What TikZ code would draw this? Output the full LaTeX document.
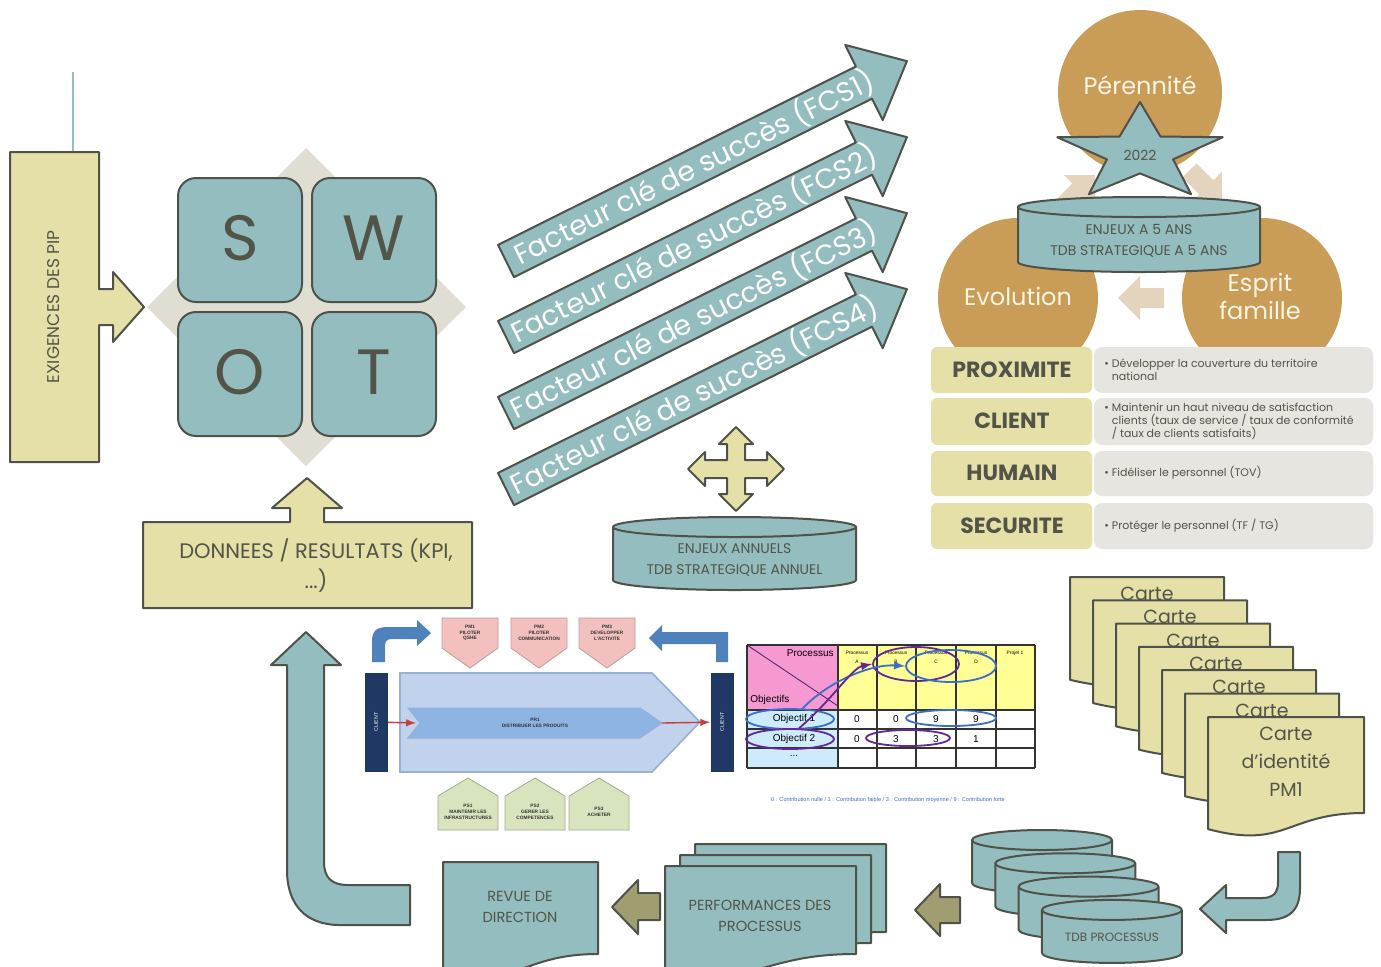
\documentclass[tikz,border=0pt]{standalone}
\usepackage{fontspec}
\setmainfont{Poppins}
\newfontfamily\arialfont{Liberation Sans}
\usetikzlibrary{calc,shapes,arrows}

\definecolor{sarcelle}{RGB}{148,189,191}
\definecolor{paille}{RGB}{228,224,168}
\definecolor{ocre}{RGB}{201,156,88}
\definecolor{trait}{RGB}{78,82,72}
\definecolor{encre}{RGB}{82,84,72}
\definecolor{grisclair}{RGB}{224,221,210}
\definecolor{grisligne}{RGB}{231,229,223}
\definecolor{olive}{RGB}{160,158,112}
\definecolor{beige}{RGB}{228,212,190}
\definecolor{creme}{RGB}{252,245,226}
\definecolor{marine}{RGB}{31,56,100}
\definecolor{bleuclair}{RGB}{192,210,236}
\definecolor{bleubord}{RGB}{150,176,214}
\definecolor{bleumoyen}{RGB}{141,180,226}
\definecolor{bleufleche}{RGB}{79,129,189}
\definecolor{rouge}{RGB}{200,60,60}
\definecolor{rosepm}{RGB}{242,192,190}
\definecolor{vertps}{RGB}{216,228,190}
\definecolor{rosetab}{RGB}{246,152,210}
\definecolor{jaunetab}{RGB}{255,255,150}
\definecolor{cieltab}{RGB}{205,235,252}
\definecolor{violet}{RGB}{100,40,150}
\definecolor{bleuell}{RGB}{60,110,200}

% cylindre : nom, x, y, largeur, hauteur, taille, texte
\newcommand{\tambour}[7]{%
  \filldraw[sarcbox] (#2,#3+10) -- (#2,#3+#5-10) arc[start angle=180, end angle=0, x radius=#4/2, y radius=10] -- (#2+#4,#3+10);
  \filldraw[sarcbox] (#2+#4/2,#3+10) ellipse[x radius=#4/2, y radius=10];
  \node[txt, font=\fontsize{#6}{10.5}\selectfont] (#1) at (#2+#4/2,#3+#5/2+6) {#7};
}
% document a bord ondule : x, y, largeur, hauteur, style
\newcommand{\feuille}[5]{%
  \draw[#5] (#1,#2) -- (#1+#3,#2) -- (#1+#3,#2+0.8*#4) .. controls (#1+0.5*#3,#2+0.8*#4) and (#1+0.5*#3,#2+1.107*#4) .. (#1,#2+0.934*#4) -- cycle;
}

\begin{document}
\begin{tikzpicture}[x=0.5pt,y=-0.5pt,
    contour/.style={draw=trait, line width=1pt, line join=round},
    paillebox/.style={contour, fill=paille},
    sarcbox/.style={contour, fill=sarcelle},
    txt/.style={text=encre, align=center, inner sep=0pt},
    clientbar/.style={fill=marine, text=white, rotate=90, minimum width=49.5pt, minimum height=11.5pt, inner sep=0pt, font=\arialfont\fontsize{2.6}{3}\selectfont},
    petit/.style={align=center, inner sep=0pt, text=black!80, font=\arialfont\bfseries\fontsize{2.4}{2.9}\selectfont},
    cellule/.style={inner sep=0pt, font=\arialfont\fontsize{5}{5}\selectfont},
    entete/.style={inner sep=0pt, align=center, font=\arialfont\fontsize{2.4}{4.4}\selectfont},
    rond/.style={ellipse, draw=#1, line width=0.9pt, inner sep=0pt},
    label/.style={text=encre, inner sep=0pt, font=\bfseries\fontsize{11}{11}\selectfont},
    detail/.style={anchor=west, align=left, text=encre, inner sep=0pt, font=\fontsize{5.5}{6.5}\selectfont}]
\useasboundingbox (0,0) rectangle (1381,966);
\fill[white] (0,0) rectangle (1381,966);

\draw[sarcelle, line width=1pt] (73,72) -- (73,152);
\draw[paillebox] (10,152) -- (99,152) -- (99,289) -- (113,289) -- (113,272) -- (144,307) -- (113,342) -- (113,325) -- (99,325) -- (99,462) -- (10,462) -- cycle;
\node[txt, rotate=90, font=\fontsize{8.5}{9}\selectfont] (exig) at (54,307) {EXIGENCES DES PIP};

\fill[grisclair] (306,148) -- (466,307) -- (306,466) -- (147,307) -- cycle;
\foreach \nom/\cx/\cy in {S/240/240, W/374/240, O/240/374, T/374/374}{
  \draw[sarcbox, rounded corners=9pt] (\cx-62,\cy-62) rectangle (\cx+62,\cy+62);
  \node[txt, font=\fontsize{32}{32}\selectfont] (swot\nom) at (\cx,\cy-2) {\nom};
}

\draw[paillebox] (143,608) -- (143,522) -- (290,522) -- (290,508) -- (272,508) -- (307,478) -- (342,508) -- (324,508) -- (324,522) -- (472,522) -- (472,608) -- cycle;
\node[txt, font=\fontsize{10.5}{15}\selectfont] (donnees) at (316,566) {DONNEES / RESULTATS (KPI,\\...)};

\foreach \k in {1,...,4}{
  \begin{scope}[shift={(506,{261+76*(\k-1)})}, rotate=26.5]
    \draw[sarcbox] (0,-18) -- (400,-18) -- (400,-42) -- (448,0) -- (400,42) -- (400,18) -- (0,18) -- cycle;
    \node[rotate=26.5, text=white, inner sep=0pt, font=\fontsize{14}{14}\selectfont] (fcs\k) at (210,0) {Facteur clé de succès (FCS\k)};
  \end{scope}
}

\begin{scope}[shift={(736,469)}]
  \draw[paillebox] (0,-42) -- (17,-25) -- (9,-25) -- (9,-9) -- (31,-9) -- (31,-17) -- (48,0) -- (31,17) -- (31,9) -- (9,9) -- (9,25) -- (17,25) -- (0,42) -- (-17,25) -- (-9,25) -- (-9,9) -- (-31,9) -- (-31,17) -- (-48,0) -- (-31,-17) -- (-31,-9) -- (-9,-9) -- (-9,-25) -- (-17,-25) -- cycle;
\end{scope}
\tambour{enjeuxan}{613}{517}{243}{73}{7}{ENJEUX ANNUELS\\TDB STRATEGIQUE ANNUEL}

\fill[ocre] (1140,92) circle[radius=82];
\fill[ocre] (1018,298) circle[radius=80];
\fill[ocre] (1262,298) circle[radius=80];
\node[text=creme, inner sep=0pt, font=\fontsize{12}{12}\selectfont] (perennite) at (1140,85) {Pérennité};
\node[text=creme, inner sep=0pt, font=\fontsize{12}{12}\selectfont] (evolution) at (1018,296) {Evolution};
\node[text=creme, inner sep=0pt, align=center, font=\fontsize{12}{14}\selectfont] (esprit) at (1260,296) {Esprit\\famille};
\foreach \px/\py/\rot in {1078/192/45, 1205/186/-45, 1142/298/180}{
  \begin{scope}[shift={(\px,\py)}, rotate=\rot]
    \fill[beige] (-22,-10) -- (2,-10) -- (2,-22) -- (24,0) -- (2,22) -- (2,10) -- (-22,10) -- cycle;
  \end{scope}
}
\begin{scope}[shift={(1140,153)}, x=43.5pt, y=25.5pt]
  \draw[sarcbox] (90:1) -- (126:.4) -- (162:1) -- (198:.4) -- (234:1) -- (270:.4) -- (306:1) -- (342:.4) -- (18:1) -- (54:.4) -- cycle;
\end{scope}
\node[txt, font=\fontsize{7}{7}\selectfont] (annee) at (1140,155) {2022};
\tambour{enjeuxcinq}{1018}{197}{242}{75}{7}{ENJEUX A 5 ANS\\TDB STRATEGIQUE A 5 ANS}

\foreach \y/\h in {347/46, 398/47, 451/45, 503/46}{
  \fill[paille, rounded corners=3pt] (931,\y) rectangle (1092,\y+\h);
  \fill[grisligne, rounded corners=4pt] (1094,\y) rectangle (1373,\y+\h);
}
\node[label] (prox) at (1012,370) {PROXIMITE};
\node[label] (client) at (1012,421) {CLIENT};
\node[label] (humain) at (1012,473) {HUMAIN};
\node[label] (secu) at (1012,526) {SECURITE};
\node[detail] (dprox) at (1104,370) {\textbullet\ Développer la couverture du territoire\\\phantom{\textbullet\ }national};
\node[detail] (dclient) at (1104,421) {\textbullet\ Maintenir un haut niveau de satisfaction\\\phantom{\textbullet\ }clients (taux de service / taux de conformité\\\phantom{\textbullet\ }/ taux de clients satisfaits)};
\node[detail] (dhumain) at (1104,473) {\textbullet\ Fidéliser le personnel (TOV)};
\node[detail] (dsecu) at (1104,526) {\textbullet\ Protéger le personnel (TF / TG)};

\draw[fill=bleuclair, draw=bleubord, line width=0.8pt] (400,673) -- (652,673) -- (700,722) -- (652,772) -- (400,772) -- cycle;
\draw[fill=bleumoyen, draw=bleubord, line width=0.5pt] (408,708) -- (640,708) -- (662,723) -- (640,738) -- (408,738) -- (420,723) -- cycle;
\node[petit] (pr1) at (535,723) {PR1\\DISTRIBUER LES PRODUITS};
\coordinate (pr1g) at (416,723);
\coordinate (pr1d) at (662,723);
\node[clientbar] (clientG) at (376,722) {CLIENT};
\node[clientbar] (clientD) at (722,722) {CLIENT};
\draw[rouge, line width=0.7pt, -latex] (clientG) -- (pr1g);
\draw[rouge, line width=0.7pt, -latex] (pr1d) -- (clientD);
\fill[bleufleche] (372,662) -- (372,642) .. controls (372,631) and (376,627) .. (388,627) -- (417,627) -- (417,620) -- (431,633) -- (417,646) -- (417,639) -- (392,639) .. controls (387,639) and (385,641) .. (385,646) -- (385,662) -- cycle;
\fill[bleufleche] (728,662) -- (728,632) -- (662,632) -- (662,625) -- (649,638) -- (662,651) -- (662,644) -- (716,644) -- (716,662) -- cycle;
\foreach \i/\x/\t in {1/470/{PM1\\PILOTER\\QSHE}, 2/539/{PM2\\PILOTER\\COMMUNICATION}, 3/607/{PM3\\DEVELOPPER\\L'ACTIVITE}}{
  \draw[fill=rosepm, draw=rosepm!80!black, line width=0.4pt] (\x-28,618) -- (\x+28,618) -- (\x+28,648) -- (\x,668) -- (\x-28,648) -- cycle;
  \node[petit] (pm\i) at (\x,633) {\t};
}
\foreach \i/\x/\t in {1/468/{PS1\\MAINTENIR LES\\INFRASTRUCTURES}, 2/535/{PS2\\GERER LES\\COMPETENCES}, 3/599/{PS3\\ACHETER}}{
  \draw[fill=vertps, draw=vertps!75!black, line width=0.4pt] (\x-30,830) -- (\x-30,796) -- (\x,778) -- (\x+30,796) -- (\x+30,830) -- cycle;
  \node[petit] (ps\i) at (\x,812) {\t};
}

\fill[rosetab] (747,645) rectangle (838,710);
\fill[jaunetab] (838,645) rectangle (1035,710);
\fill[cieltab] (747,710) rectangle (838,768);
\draw[violet!70!black, line width=0.4pt] (747,645) -- (838,706);
\foreach \x in {747,838,877,916,956,996,1035}
  \draw[black!80, line width=0.6pt] (\x,645) -- (\x,768);
\foreach \y in {645,710,729,748,768}
  \draw[black!80, line width=0.6pt] (747,\y) -- (1035,\y);
\node[cellule, anchor=east] (tProc) at (834,653) {Processus};
\node[cellule, anchor=west] (tObj) at (750,700) {Objectifs};
\foreach \n/\x/\t in {A/857/{Processus\\A}, B/896/{Processus\\B}, C/936/{Processus\\C}, D/976/{Processus\\D}, P/1015/{Projet 1}}
  \node[entete, anchor=north] (col\n) at (\x,651) {\t};
\node[cellule] (obj1) at (794,719) {Objectif 1};
\node[cellule] (obj2) at (794,739) {Objectif 2};
\node[cellule] (objn) at (794,756) {...};
\foreach \v/\x/\y in {0/857/719, 0/896/719, 9/936/719, 9/976/719, 0/857/739, 3/896/739, 3/936/739, 1/976/739}
  \node[cellule] at (\x,\y) {\v};
\node[rond=bleuell, minimum width=44pt, minimum height=10pt] (ellObj1) at (790,719) {};
\node[rond=violet, minimum width=44pt, minimum height=10pt] (ellObj2) at (790,739) {};
\node[rond=violet, minimum width=43pt, minimum height=17pt] (ellB) at (916,664) {};
\node[rond=bleuell, minimum width=45pt, minimum height=16pt] (ellCD) at (951,666) {};
\node[rond=bleuell, minimum width=45pt, minimum height=8pt] (ell99) at (951,718) {};
\node[rond=violet, minimum width=42pt, minimum height=8pt] (ell33) at (908,738) {};
\draw[bleuell, line width=0.9pt, -latex] (ellObj1.40) .. controls (830,680) and (872,664) .. (ellCD.west);
\draw[violet, line width=0.9pt, -latex] (ellObj2.50) .. controls (832,700) and (852,668) .. (ellB.west);
\node[inner sep=0pt, text=bleuell, font=\arialfont\fontsize{2.8}{3}\selectfont] (legende) at (888,800) {0 : Contribution nulle / 1 : Contribution faible / 3 : Contribution moyenne / 9 : Contribution forte};

\foreach \i in {0,...,5}{
  \feuille{1070+23*\i}{577+23.3*\i}{154}{110}{paillebox}
  \node[txt, font=\fontsize{9.5}{10}\selectfont] (carte\i) at (1147+23*\i,594+23.3*\i) {Carte};
}
\feuille{1208}{717}{156}{120}{paillebox}
\node[txt, font=\fontsize{9.5}{14}\selectfont] (cartePM) at (1286,762) {Carte\\d'identité\\PM1};

\draw[sarcbox] (1278,852) -- (1300,852) -- (1300,888) .. controls (1300,910) and (1290,920) .. (1266,920) -- (1226,920) -- (1226,933) -- (1200,909) -- (1226,885) -- (1226,898) -- (1262,898) .. controls (1273,898) and (1278,893) .. (1278,882) -- cycle;
\foreach \i in {0,...,3}{
  \tambour{tdb\i}{972+23.3*\i}{830+23.3*\i}{140}{63}{6}{TDB PROCESSUS}
}

\draw[contour, fill=olive] (960,897) -- (940,897) -- (940,884) -- (915,910) -- (940,936) -- (940,923) -- (960,923) -- cycle;
\foreach \i in {2,1,0}{
  \feuille{665+15*\i}{866-11*\i}{191}{110}{sarcbox}
}
\node[txt, font=\fontsize{7.3}{10.5}\selectfont] (perf) at (760,916) {PERFORMANCES DES\\PROCESSUS};
\draw[contour, fill=olive] (660,893) -- (638,893) -- (638,880) -- (612,907) -- (638,934) -- (638,920) -- (660,920) -- cycle;
\feuille{443}{862}{155}{115}{sarcbox}
\node[txt, font=\fontsize{7.3}{10.5}\selectfont] (revue) at (520,907) {REVUE DE\\DIRECTION};
\draw[sarcbox] (306,632) -- (341,665) -- (324,665) -- (324,862) .. controls (324,878) and (332,885) .. (348,885) -- (410,885) -- (410,925) -- (340,925) .. controls (306,925) and (287,905) .. (287,870) -- (287,665) -- (271,665) -- cycle;
\end{tikzpicture}
\end{document}
